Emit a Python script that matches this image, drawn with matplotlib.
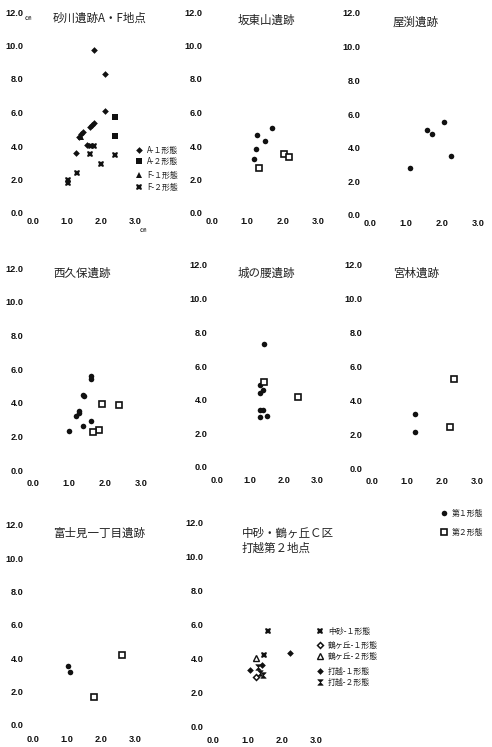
import numpy as np
import matplotlib
matplotlib.use('Agg')
import matplotlib.pyplot as plt
from matplotlib.lines import Line2D

W, H = 492, 747
JP = ['Noto Sans CJK JP', 'DejaVu Sans']
INK = '#111111'

xticks = [0, 1, 2, 3]
yticks = [0, 2, 4, 6, 8, 10, 12]

# 砂川遺跡A・F地点
sunagawa_a1_x = [1.79, 2.12, 2.12, 1.35, 1.41, 1.47, 1.68, 1.74, 1.79, 1.26, 1.58]
sunagawa_a1_y = [9.73, 8.30, 6.09, 4.54, 4.72, 4.84, 5.13, 5.25, 5.37, 3.58, 4.06]
sunagawa_a2_x = [2.41, 2.41]
sunagawa_a2_y = [5.73, 4.60]
sunagawa_f1_x = [1.40]
sunagawa_f1_y = [4.55]
sunagawa_f2_x = [1.70, 1.79, 1.68, 2.00, 2.41, 1.28, 1.04, 1.04]
sunagawa_f2_y = [4.00, 4.00, 3.50, 2.93, 3.46, 2.40, 1.97, 1.77]
sunagawa_labels = ['A-１形態', 'A-２形態', 'F-１形態', 'F-２形態']

# 坂東山遺跡
bando_1_x = [1.69, 1.28, 1.50, 1.25, 1.19]
bando_1_y = [5.06, 4.66, 4.32, 3.80, 3.20]
bando_2_x = [1.34, 2.04, 2.19]
bando_2_y = [2.71, 3.52, 3.32]

# 屋渕遺跡
yabuchi_1_x = [1.11, 1.59, 1.71, 2.06, 2.25]
yabuchi_1_y = [2.81, 5.05, 4.81, 5.54, 3.52]

# 西久保遺跡
nishikubo_1_x = [1.60, 1.60, 1.40, 1.42, 1.29, 1.29, 1.19, 1.60, 1.40, 1.01]
nishikubo_1_y = [5.60, 5.40, 4.46, 4.40, 3.53, 3.37, 3.23, 2.92, 2.64, 2.34]
nishikubo_2_x = [1.91, 2.39, 1.83, 1.66]
nishikubo_2_y = [3.93, 3.87, 2.38, 2.28]

# 城の腰遺跡
jonokoshi_1_x = [1.40, 1.28, 1.38, 1.28, 1.28, 1.38, 1.28, 1.50]
jonokoshi_1_y = [7.29, 4.86, 4.56, 4.37, 3.38, 3.38, 2.98, 3.04]
jonokoshi_2_x = [1.40, 2.43]
jonokoshi_2_y = [5.06, 4.17]

# 宮林遺跡
miyabayashi_1_x = [1.22, 1.22]
miyabayashi_1_y = [3.19, 2.11]
miyabayashi_2_x = [2.33, 2.24]
miyabayashi_2_y = [5.27, 2.43]

# 富士見一丁目遺跡
fujimi_1_x = [1.04, 1.09]
fujimi_1_y = [3.56, 3.20]
fujimi_2_x = [1.79, 2.63]
fujimi_2_y = [1.70, 4.20]

# 中砂・鶴ヶ丘C区・打越第2地点
nakasuna1_x = [1.60, 1.48]
nakasuna1_y = [5.66, 4.23]
tsuru1_x = [1.24]
tsuru1_y = [2.93]
tsuru2_x = [1.24]
tsuru2_y = [4.03]
uchi1_x = [1.07, 1.41, 2.25]
uchi1_y = [3.35, 3.64, 4.33]
uchi2_x = [1.31, 1.36, 1.44]
uchi2_y = [3.54, 3.15, 3.05]
nakasuna_labels = ['中砂-１形態', '鶴ヶ丘-１形態', '鶴ヶ丘-２形態', '打越-１形態', '打越-２形態']

form_labels = ['第１形態', '第２形態']

hourglass = [(-1, 1), (1, 1), (-1, -1), (1, -1), (-1, 1)]

# marker styles
M_CIRC = dict(marker='o', markersize=4.0, color=INK, markeredgewidth=0)
M_SQ = dict(marker='s', markersize=3.7, markerfacecolor='white', markeredgecolor=INK, markeredgewidth=1.2)
M_DIA = dict(marker='D', markersize=3.4, color=INK, markeredgewidth=0)
M_FSQ = dict(marker='s', markersize=3.7, color=INK, markeredgewidth=0)
M_TRI = dict(marker='^', markersize=4.2, color=INK, markeredgewidth=0)
M_X = dict(marker='X', markersize=4.8, color=INK, markeredgewidth=0)
M_ODIA = dict(marker='D', markersize=3.0, markerfacecolor='white', markeredgecolor=INK, markeredgewidth=1.1)
M_OTRI = dict(marker='^', markersize=4.3, markerfacecolor='white', markeredgecolor=INK, markeredgewidth=1.0)
M_HG = dict(marker=hourglass, markersize=4.0, color=INK, markeredgewidth=0.4)

fig = plt.figure(figsize=(W / 100, H / 100), dpi=100)
fig.patch.set_facecolor('white')


def fx(px):
    return px / W


def fy(py):
    return 1 - py / H


def make_axes(x0, scale, y0, y12, xpad):
    ax = fig.add_axes([fx(x0), fy(y0), 3.2 * scale / W, (y0 - y12) / H])
    ax.set_xlim(0, 3.2)
    ax.set_ylim(0, 12)
    ax.patch.set_visible(False)
    for s in ax.spines.values():
        s.set_visible(False)
    ax.set_xticks(xticks)
    ax.set_yticks(yticks)
    ax.set_xticklabels([f'{v:.1f}' for v in xticks])
    ax.set_yticklabels([f'{v:.1f}' for v in yticks])
    ax.tick_params(axis='both', length=0, labelsize=6.6, labelcolor=INK)
    ax.tick_params(axis='x', pad=xpad)
    ax.tick_params(axis='y', pad=7.0)
    for lab in ax.get_xticklabels() + ax.get_yticklabels():
        lab.set_fontfamily('Liberation Sans')
        lab.set_fontweight('bold')
    return ax


def pts(ax, x, y, style):
    ax.plot(x, y, linestyle='none', clip_on=False, **style)


def title(px, py, text):
    fig.text(fx(px), fy(py), text, family=JP, fontsize=8.3, color='#222222',
             ha='left', va='center')


def legend_item(px, py, text, style):
    fig.add_artist(Line2D([fx(px)], [fy(py)], transform=fig.transFigure,
                          linestyle='none', **style))
    fig.text(fx(px + 8), fy(py), text, family=JP, fontsize=5.7, color='#222222',
             ha='left', va='center')


# row 1
ax1 = make_axes(33, 34.0, 213, 12, 3.0)
pts(ax1, sunagawa_a1_x, sunagawa_a1_y, M_DIA)
pts(ax1, sunagawa_a2_x, sunagawa_a2_y, M_FSQ)
pts(ax1, sunagawa_f1_x, sunagawa_f1_y, M_TRI)
pts(ax1, sunagawa_f2_x, sunagawa_f2_y, M_X)
title(53, 18, '砂川遺跡A・F地点')
fig.text(fx(25), fy(18), '㎝', family=JP, fontsize=4.5, color=INK, ha='left', va='center')
fig.text(fx(140), fy(230), '㎝', family=JP, fontsize=4.5, color=INK, ha='left', va='center')
for (py, lab, st) in zip([150, 161, 175, 187], sunagawa_labels, [M_DIA, M_FSQ, M_TRI, M_X]):
    legend_item(139, py, lab, st)

ax2 = make_axes(212, 35.3, 213, 12, 3.0)
pts(ax2, bando_1_x, bando_1_y, M_CIRC)
pts(ax2, bando_2_x, bando_2_y, M_SQ)
title(238, 20, '坂東山遺跡')

ax3 = make_axes(370, 36.0, 215, 13, 3.0)
pts(ax3, yabuchi_1_x, yabuchi_1_y, M_CIRC)
title(393, 22, '屋渕遺跡')

# row 2
ax4 = make_axes(33, 36.0, 470, 268, 6.5)
pts(ax4, nishikubo_1_x, nishikubo_1_y, M_CIRC)
pts(ax4, nishikubo_2_x, nishikubo_2_y, M_SQ)
title(53, 273, '西久保遺跡')

ax5 = make_axes(217, 33.3, 467, 265, 6.5)
pts(ax5, jonokoshi_1_x, jonokoshi_1_y, M_CIRC)
pts(ax5, jonokoshi_2_x, jonokoshi_2_y, M_SQ)
title(238, 273, '城の腰遺跡')

ax6 = make_axes(372, 35.0, 468, 265, 6.5)
pts(ax6, miyabayashi_1_x, miyabayashi_1_y, M_CIRC)
pts(ax6, miyabayashi_2_x, miyabayashi_2_y, M_SQ)
title(393, 273, '宮林遺跡')

legend_item(444, 513, form_labels[0], M_CIRC)
legend_item(444, 532, form_labels[1], M_SQ)

# row 3
ax7 = make_axes(33, 34.0, 725, 525, 7.0)
pts(ax7, fujimi_1_x, fujimi_1_y, M_CIRC)
pts(ax7, fujimi_2_x, fujimi_2_y, M_SQ)
title(53, 533, '富士見一丁目遺跡')

ax8 = make_axes(213, 34.4, 727, 523, 6.5)
pts(ax8, nakasuna1_x, nakasuna1_y, M_X)
pts(ax8, tsuru1_x, tsuru1_y, M_ODIA)
pts(ax8, tsuru2_x, tsuru2_y, M_OTRI)
pts(ax8, uchi1_x, uchi1_y, M_DIA)
pts(ax8, uchi2_x, uchi2_y, M_HG)
title(242, 533, '中砂・鶴ヶ丘Ｃ区')
title(242, 548, '打越第２地点')
for (py, lab, st) in zip([631, 645, 656, 671, 682], nakasuna_labels,
                         [M_X, M_ODIA, M_OTRI, M_DIA, M_HG]):
    legend_item(320, py, lab, st)

fig.savefig('out.png', dpi=100, facecolor='white')
